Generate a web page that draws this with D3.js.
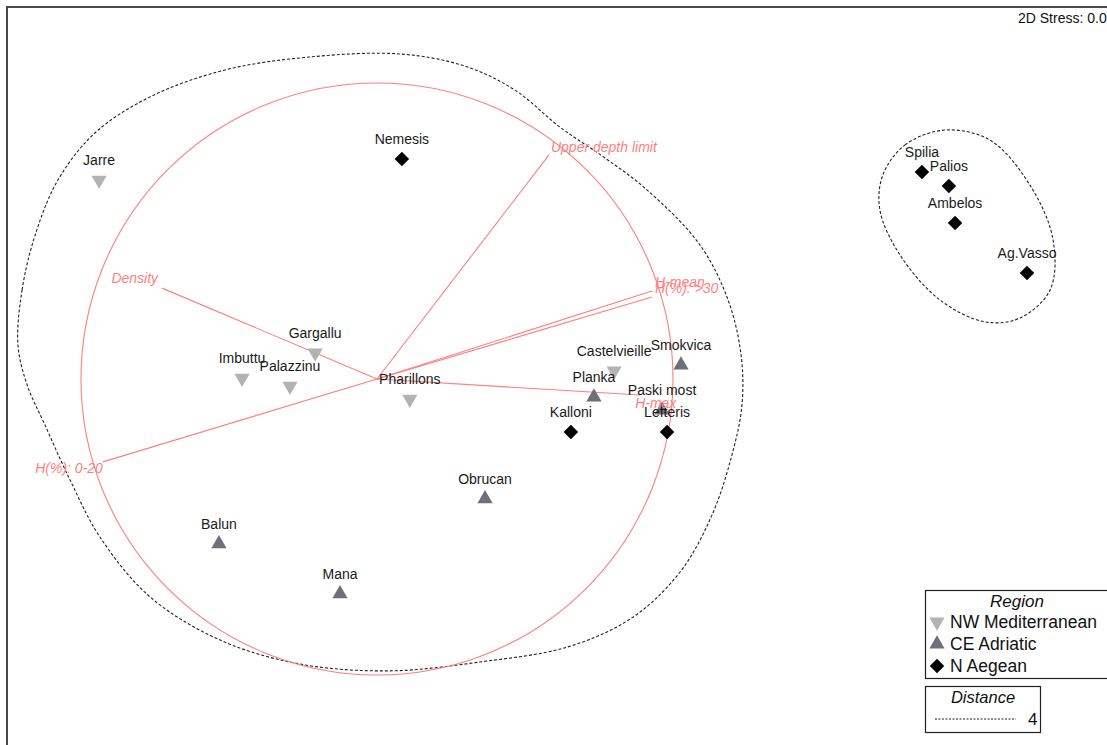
<!DOCTYPE html>
<html><head><meta charset="utf-8">
<script src="https://cdn.jsdelivr.net/npm/d3@7"></script>
<style>body{margin:0;background:#fff;} svg{display:block;font-family:"Liberation Sans",Arial,sans-serif;}</style>
</head><body>
<svg id="chart" width="1107" height="745"></svg>
<script>
// ---- data (MDS coordinates, unit = vector-circle radius) ----
const sites = ["Jarre","Gargallu","Imbuttu","Palazzinu","Pharillons","Castelvieille",
  "Smokvica","Planka","Paski most","Obrucan","Balun","Mana",
  "Nemesis","Kalloni","Lefteris","Spilia","Palios","Ambelos","Ag.Vasso"];
const regions = ["NW","NW","NW","NW","NW","NW","CE","CE","CE","CE","CE","CE","NA","NA","NA","NA","NA","NA","NA"];
const mdsX = [-0.939,-0.209,-0.456,-0.294,0.111,0.801, 1.027,0.733,0.963,0.365,-0.534,-0.125, 0.084,0.655,0.980,1.841,1.932,1.953,2.196];
const mdsY = [0.672,0.088,0.003,-0.024,-0.068,0.027, 0.047,-0.061,-0.105,-0.405,-0.557,-0.726, 0.743,-0.179,-0.179,0.699,0.652,0.527,0.358];

const regionKeys = ["NW","CE","NA"];
const regionNames = ["NW Mediterranean","CE Adriatic","N Aegean"];

const vectorNames = ["Upper depth limit","Density","H-mean","H(%): >30","H-max","H(%): 0-20"];
const vectorX = [0.581,-0.726,0.929,0.929,0.889,-0.926];
const vectorY = [0.757,0.307,0.297,0.277,-0.054,-0.280];

// distance contour (resemblance level 4) traced outlines
const bigContourX = [-1.213,-1.199,-1.155,-1.078,-0.953,-0.767,-0.514,-0.226,0.078,0.297,0.466,0.618,0.770,0.912,1.091,1.186,1.230,1.233,1.199,1.132,1.024,0.861,0.645,0.348,0.044,-0.260,-0.530,-0.767,-0.936,-1.037,-1.122,-1.182];
const bigContourY = [0.115,0.301,0.486,0.672,0.831,0.953,1.044,1.088,1.098,1.057,0.976,0.851,0.747,0.639,0.453,0.267,0.081,-0.088,-0.257,-0.459,-0.652,-0.807,-0.905,-0.956,-0.986,-0.963,-0.882,-0.736,-0.534,-0.341,-0.155,-0.020];
const smallContourX = [1.709,1.784,1.919,2.071,2.206,2.284,2.274,2.172,2.054,1.902,1.767,1.699];
const smallContourY = [0.689,0.791,0.841,0.807,0.655,0.470,0.301,0.206,0.193,0.267,0.419,0.571];

const stressText = "2D Stress: 0.06";
const distanceLevel = "4";

// ---- drawing ----
const svg = d3.select("#chart");
const x = d3.scaleLinear().domain([-1, 1]).range([81, 673]);
const y = d3.scaleLinear().domain([-1, 1]).range([675, 83]);

const colors = {NW:"#b3b3b3", CE:"#6f6f7a", NA:"#000000"};
const vecColor = "#ff7f7f";

// frame
svg.append("rect").attr("x",7).attr("y",7).attr("width",1120).attr("height",760)
  .attr("fill","none").attr("stroke","#4a4a4a").attr("stroke-width",2);

svg.append("text").attr("x",1018).attr("y",23).attr("font-size",14).attr("fill","#111").text(stressText);

// contours
const contourLine = d3.line().x(d=>x(d[0])).y(d=>y(d[1])).curve(d3.curveCatmullRomClosed.alpha(0.5));
svg.append("path").datum(d3.zip(bigContourX,bigContourY)).attr("d",contourLine)
  .attr("fill","none").attr("stroke","#222").attr("stroke-width",1.1).attr("stroke-dasharray","3,2");
svg.append("path").datum(d3.zip(smallContourX,smallContourY)).attr("d",contourLine)
  .attr("fill","none").attr("stroke","#222").attr("stroke-width",1.1).attr("stroke-dasharray","3,2");

// vector circle
svg.append("circle").attr("cx",x(0)).attr("cy",y(0)).attr("r",x(1)-x(0))
  .attr("fill","none").attr("stroke",vecColor).attr("stroke-width",1.1);

// vectors
const vecLabelPos = [
  {dx:2, dy:-3, anchor:"start"},
  {dx:-4, dy:-5, anchor:"end"},
  {dx:3, dy:-4, anchor:"start"},
  {dx:3, dy:-4, anchor:"start"},
  {dx:-5, dy:13, anchor:"start"},
  {dx:0, dy:11, anchor:"end"}
];
vectorNames.forEach((n,i)=>{
  svg.append("line").attr("x1",x(0)).attr("y1",y(0)).attr("x2",x(vectorX[i])).attr("y2",y(vectorY[i]))
    .attr("stroke",vecColor).attr("stroke-width",1.1);
});

// points
const triSize = 100, diaSize = 105;
function markerPath(k){
  if (k==="NW" || k==="CE") return d3.symbol().type(d3.symbolTriangle).size(triSize)();
  return d3.symbol().type(d3.symbolSquare).size(diaSize)();
}
const markerRot = {NW:180, CE:0, NA:45};
sites.forEach((s,i)=>{
  const r = regions[i];
  svg.append("path").attr("d",markerPath(r)).attr("fill",colors[r])
    .attr("transform",`translate(${x(mdsX[i])},${y(mdsY[i])}) rotate(${markerRot[r]})`);
});
sites.forEach((s,i)=>{
  svg.append("text").attr("x",x(mdsX[i])).attr("y",y(mdsY[i])-15).attr("text-anchor","middle")
    .attr("font-size",14).attr("fill","#1a1a1a").text(s);
});
vectorNames.forEach((n,i)=>{
  const p = vecLabelPos[i];
  svg.append("text").attr("x",x(vectorX[i])+p.dx).attr("y",y(vectorY[i])+p.dy)
    .attr("text-anchor",p.anchor).attr("font-size",14).attr("font-style","italic")
    .attr("fill",vecColor).text(n);
});

// legend: Region
const lg = svg.append("g");
lg.append("rect").attr("x",925.5).attr("y",590.5).attr("width",200).attr("height",88)
  .attr("fill","#fff").attr("stroke","#222").attr("stroke-width",1.2);
lg.append("text").attr("x",1017).attr("y",607).attr("text-anchor","middle").attr("font-size",17)
  .attr("font-style","italic").attr("fill","#111").text("Region");
regionKeys.forEach((k,i)=>{
  const cy = 622 + i*22;
  lg.append("path").attr("d",markerPath(k)).attr("fill",colors[k])
    .attr("transform",`translate(937,${cy}) rotate(${markerRot[k]})`);
  lg.append("text").attr("x",950).attr("y",cy+6).attr("font-size",17.5).attr("fill","#111").text(regionNames[i]);
});

// legend: Distance
const dg = svg.append("g");
dg.append("rect").attr("x",925.5).attr("y",686.5).attr("width",115).attr("height",46)
  .attr("fill","#fff").attr("stroke","#222").attr("stroke-width",1.2);
dg.append("text").attr("x",983).attr("y",703).attr("text-anchor","middle").attr("font-size",16.5)
  .attr("font-style","italic").attr("fill","#111").text("Distance");
dg.append("line").attr("x1",935).attr("x2",1016).attr("y1",719).attr("y2",719)
  .attr("stroke","#222").attr("stroke-width",1).attr("stroke-dasharray","2,1.5");
dg.append("text").attr("x",1028).attr("y",725).attr("font-size",17).attr("fill","#111").text(distanceLevel);
</script>
</body></html>
